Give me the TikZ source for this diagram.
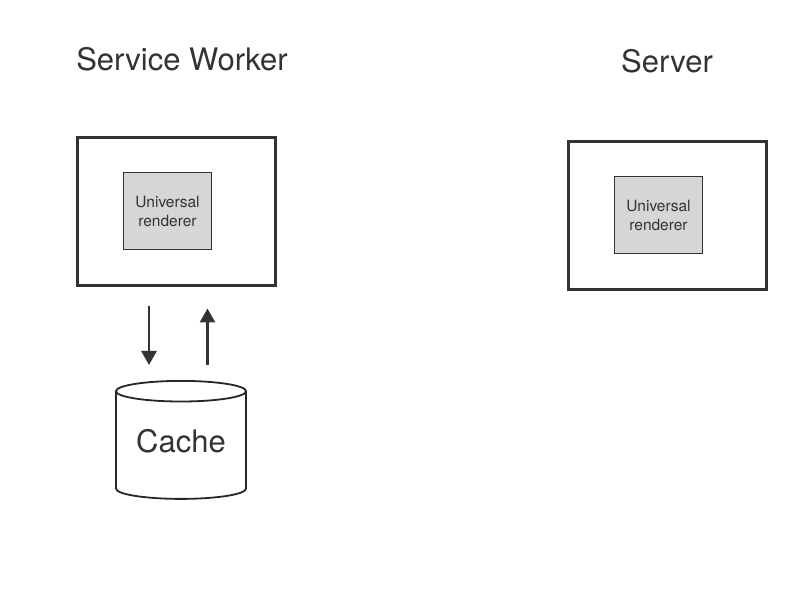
\documentclass[tikz,border=0pt]{standalone}
\usepackage{fontspec}
\setmainfont{TeX Gyre Heros}
\usetikzlibrary{arrows.meta, shapes.geometric, positioning, calc}
\definecolor{ink}{HTML}{333333}
\definecolor{rendergray}{HTML}{D6D6D6}
\tikzset{
  hostbox/.style={
    rectangle, draw=ink, line width=3pt, minimum width=198pt, minimum height=148pt,
    inner sep=0pt
  },
  renderbox/.style={
    rectangle, draw=ink, line width=0.8pt, fill=rendergray, minimum width=88pt,
    minimum height=77pt, inner sep=0pt, align=center, text=ink,
    font=\fontsize{15.5}{19}\selectfont
  },
  title/.style={text=ink, inner sep=0pt, font=\fontsize{31}{36}\selectfont},
  store/.style={
    cylinder, shape border rotate=90, aspect=0.23, draw=black!85, line width=1.8pt,
    minimum width=130pt, minimum height=118pt, inner sep=0pt, text=ink,
    font=\fontsize{31}{36}\selectfont
  },
  flow/.style={-{Triangle[length=14pt, width=15pt]}, draw=ink, line width=2.8pt}
}

\begin{document}
\begin{tikzpicture}[x=1pt, y=1pt]
    \useasboundingbox (0,0) rectangle (800,600);
    \node[hostbox] (sw) at (176.5,388.5) {};
    \node[renderbox] (swR) at (167.5,389) {Universal\\renderer};
    \node[title] (swT) at (182,541) {Service Worker};
    \node[hostbox] (srv) at (667.5,384.5) {};
    \node[renderbox] (srvR) at (658.5,385) {Universal\\renderer};
    \node[title] (srvT) at (667,539) {Server};
    \node[store] (cache) at (181,154.5) {\raisebox{9pt}{Cache}};
    \draw[flow, shorten <=19.5pt, shorten >=15pt] ([xshift=-27.5pt]sw.south) -- ([xshift=-27.5pt]sw.south |- cache.north);
    \draw[flow, shorten <=15pt, shorten >=21.5pt] ([xshift=31pt]sw.south |- cache.north) -- ([xshift=31pt]sw.south);
\end{tikzpicture}
\end{document}
